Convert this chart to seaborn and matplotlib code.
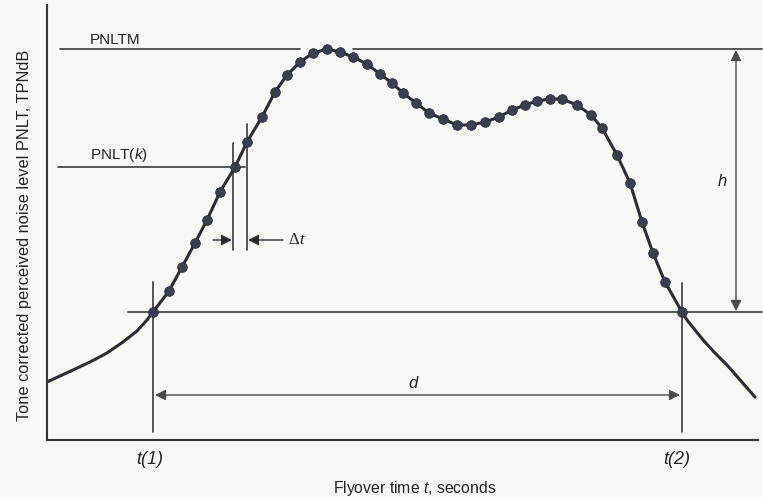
import matplotlib
matplotlib.use("Agg")
import matplotlib.pyplot as plt
import seaborn as sns
import pandas as pd

# ---- data (time units, level units) ----
dot_time = [106, 122, 135, 148, 160, 173, 188, 200, 215, 228, 240, 253, 266, 280,
            293, 306, 320, 333, 345, 356, 369, 382, 396, 410, 424, 438, 452, 465,
            478, 490, 503, 515, 530, 544, 555, 570, 583, 595, 606, 618, 635]
dot_level = [128, 149, 173, 197, 220, 248, 273, 298, 323, 348, 365, 378, 387, 391,
             388, 383, 376, 366, 357, 347, 337, 327, 321, 315, 315, 318, 323, 330,
             335, 339, 341, 341, 335, 325, 312, 285, 257, 218, 187, 158, 128]
left_tail_time = [0, 13, 26, 43, 60, 76, 90, 100]
left_tail_level = [58, 64, 70, 78, 87, 98, 109, 120]
right_tail_time = [640, 648, 657, 667, 680, 694, 708]
right_tail_level = [120, 110, 99, 88, 75, 59, 43]

pnltm = 391
pnlt_k = 273
threshold = 128
t1, t2 = 106, 635
tk_a, tk_b = 186, 200

curve = pd.DataFrame({
    "time": left_tail_time + dot_time + right_tail_time,
    "level": left_tail_level + dot_level + right_tail_level,
})
dots = pd.DataFrame({"time": dot_time, "level": dot_level})

sns.set_theme(style="white")
plt.rcParams["font.family"] = ["Liberation Sans", "DejaVu Sans"]
plt.rcParams["mathtext.fontset"] = "custom"
plt.rcParams["mathtext.rm"] = "Liberation Sans"
plt.rcParams["mathtext.it"] = "Liberation Sans:italic"

bg = "#f8f8f6"
ink = "#2c2c34"
fig = plt.figure(figsize=(7.63, 4.97), dpi=100, facecolor=bg)
ax = fig.add_axes([47 / 763, 1 - 440 / 497, 711 / 763, 435 / 497])
ax.set_facecolor(bg)

sns.lineplot(data=curve, x="time", y="level", sort=False, color=ink, lw=2.2, ax=ax)
sns.scatterplot(data=dots, x="time", y="level", color="#3a3e50", s=48,
                edgecolor="#2a2d3a", linewidth=0.6, ax=ax, zorder=5)

ax.set_xlim(0, 711)
ax.set_ylim(0, 435)
ax.set_xticks([])
ax.set_yticks([])
ax.set_xlabel("")
ax.set_ylabel("")
for s in ["top", "right"]:
    ax.spines[s].set_visible(False)
for s in ["left", "bottom"]:
    ax.spines[s].set_color("#333333")
    ax.spines[s].set_linewidth(1.5)

lc = "#3a3a3a"
lw = 1.2
# PNLTM line (with gap at peak)
ax.plot([13, 253], [pnltm, pnltm], color=lc, lw=lw)
ax.plot([306, 715], [pnltm, pnltm], color=lc, lw=lw, clip_on=False)
# PNLT(k) line
ax.plot([11, 198], [pnlt_k, pnlt_k], color=lc, lw=lw)
# delta-t verticals
ax.plot([tk_a, tk_a], [297, 190], color=lc, lw=lw)
ax.plot([tk_b, tk_b], [316, 190], color=lc, lw=lw)
# threshold line
ax.plot([81, 715], [threshold, threshold], color=lc, lw=lw, clip_on=False)
# t1, t2 verticals
ax.plot([t1, t1], [158, 8], color=lc, lw=lw)
ax.plot([t2, t2], [157, 8], color=lc, lw=lw)

ap = dict(arrowstyle="-|>", color=ink, lw=1.0, mutation_scale=16, shrinkA=0, shrinkB=0)
ax.annotate("", xy=(tk_a - 1, 200), xytext=(166, 200), arrowprops=ap)
ax.annotate("", xy=(tk_b + 1, 200), xytext=(236, 200), arrowprops=ap)
ap2 = dict(arrowstyle="<|-|>", color="#4a4a4a", lw=1.0, mutation_scale=16, shrinkA=0, shrinkB=0)
ax.annotate("", xy=(t1 + 2, 45), xytext=(t2 - 2, 45), arrowprops=ap2)
ax.annotate("", xy=(689, pnltm - 1), xytext=(689, threshold + 1), arrowprops=ap2)

fs = 11
ax.text(43, 400, "PNLTM", fontsize=fs, color="#222", va="center", ha="left")
ax.text(43, 285, "PNLT($k$)", fontsize=fs, color="#222", va="center", ha="left")
ax.text(241, 200, "Δ", fontsize=fs + 1, color="#222", va="center", ha="left",
        family=["Liberation Serif", "DejaVu Serif"])
ax.text(252, 200, "t", fontsize=fs + 1, color="#222", va="center", ha="left",
        family=["Liberation Serif", "DejaVu Serif"], style="italic")
ax.text(366, 57, "d", fontsize=fs + 1, color="#222", va="center", ha="center", style="italic")
ax.text(675, 259, "h", fontsize=fs + 1, color="#222", va="center", ha="center", style="italic")
ax.text(103, -20, "t(1)", fontsize=13, color="#222", va="center", ha="center",
        style="italic", clip_on=False)
ax.text(630, -20, "t(2)", fontsize=13, color="#222", va="center", ha="center",
        style="italic", clip_on=False)

fig.text(415 / 763, 1 - 488 / 497, "Flyover time $t$, seconds", fontsize=11.3,
         color="#222", ha="center", va="center")
fig.text(25 / 763, 1 - 235.5 / 497, "Tone corrected perceived noise level PNLT, TPNdB",
         fontsize=11.8, color="#222", ha="center", va="center", rotation=90)

fig.savefig("out.png", dpi=100, facecolor=bg)
